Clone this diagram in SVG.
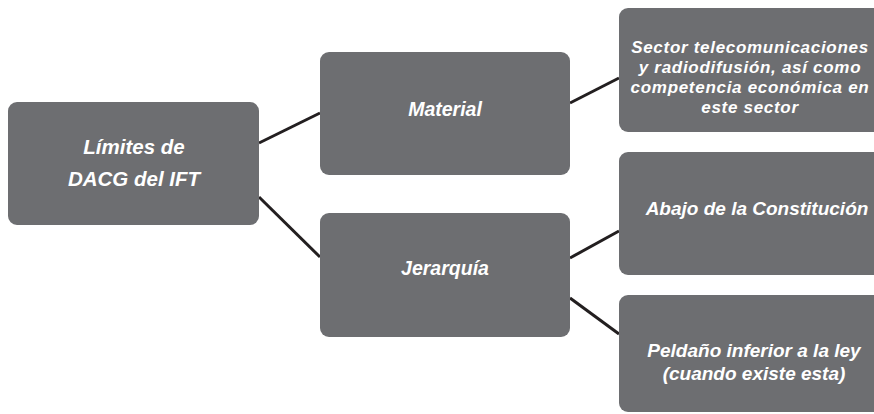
<svg xmlns="http://www.w3.org/2000/svg" width="874" height="414" viewBox="0 0 874 414">
<style>
.box{fill:#6d6e71}
.t{fill:#ffffff;font-family:"Liberation Sans",Arial,sans-serif;font-weight:bold;font-style:italic;text-anchor:middle}
.link{stroke:#231f20;stroke-width:3;fill:none}
</style>
<rect width="874" height="414" fill="#ffffff"/>
<g id="connectors">
<line class="link" x1="259" y1="143" x2="320" y2="113"/>
<line class="link" x1="259" y1="197" x2="320" y2="257"/>
<line class="link" x1="570" y1="103" x2="619" y2="78"/>
<line class="link" x1="570" y1="258" x2="619" y2="231"/>
<line class="link" x1="570" y1="298" x2="619" y2="334"/>
</g>
<g id="root">
<rect class="box" x="8" y="102" width="251" height="123" rx="9"/>
<text class="t" x="134" y="154" font-size="20.5">Límites de</text>
<text class="t" x="134" y="186" font-size="20.5">DACG del IFT</text>
</g>
<g id="material">
<rect class="box" x="320" y="52" width="250" height="123" rx="9"/>
<text class="t" x="445" y="116" font-size="19.5">Material</text>
</g>
<g id="jerarquia">
<rect class="box" x="320" y="213" width="250" height="124" rx="9"/>
<text class="t" x="445" y="275" font-size="19.5">Jerarquía</text>
</g>
<g id="sector">
<rect class="box" x="619" y="8" width="265" height="124" rx="9"/>
<text class="t" font-size="17" letter-spacing="0.7"><tspan x="750" y="53">Sector telecomunicaciones</tspan><tspan x="750" y="73">y radiodifusión, así como</tspan><tspan x="750" y="93">competencia económica en</tspan><tspan x="750" y="113">este sector</tspan></text>
</g>
<g id="abajo">
<rect class="box" x="619" y="152" width="265" height="123" rx="9"/>
<text class="t" x="757" y="215" font-size="19">Abajo de la Constitución</text>
</g>
<g id="peldano">
<rect class="box" x="619" y="295" width="265" height="117" rx="9"/>
<text class="t" font-size="19"><tspan x="754" y="357">Peldaño inferior a la ley</tspan><tspan x="754" y="380">(cuando existe esta)</tspan></text>
</g>
</svg>
